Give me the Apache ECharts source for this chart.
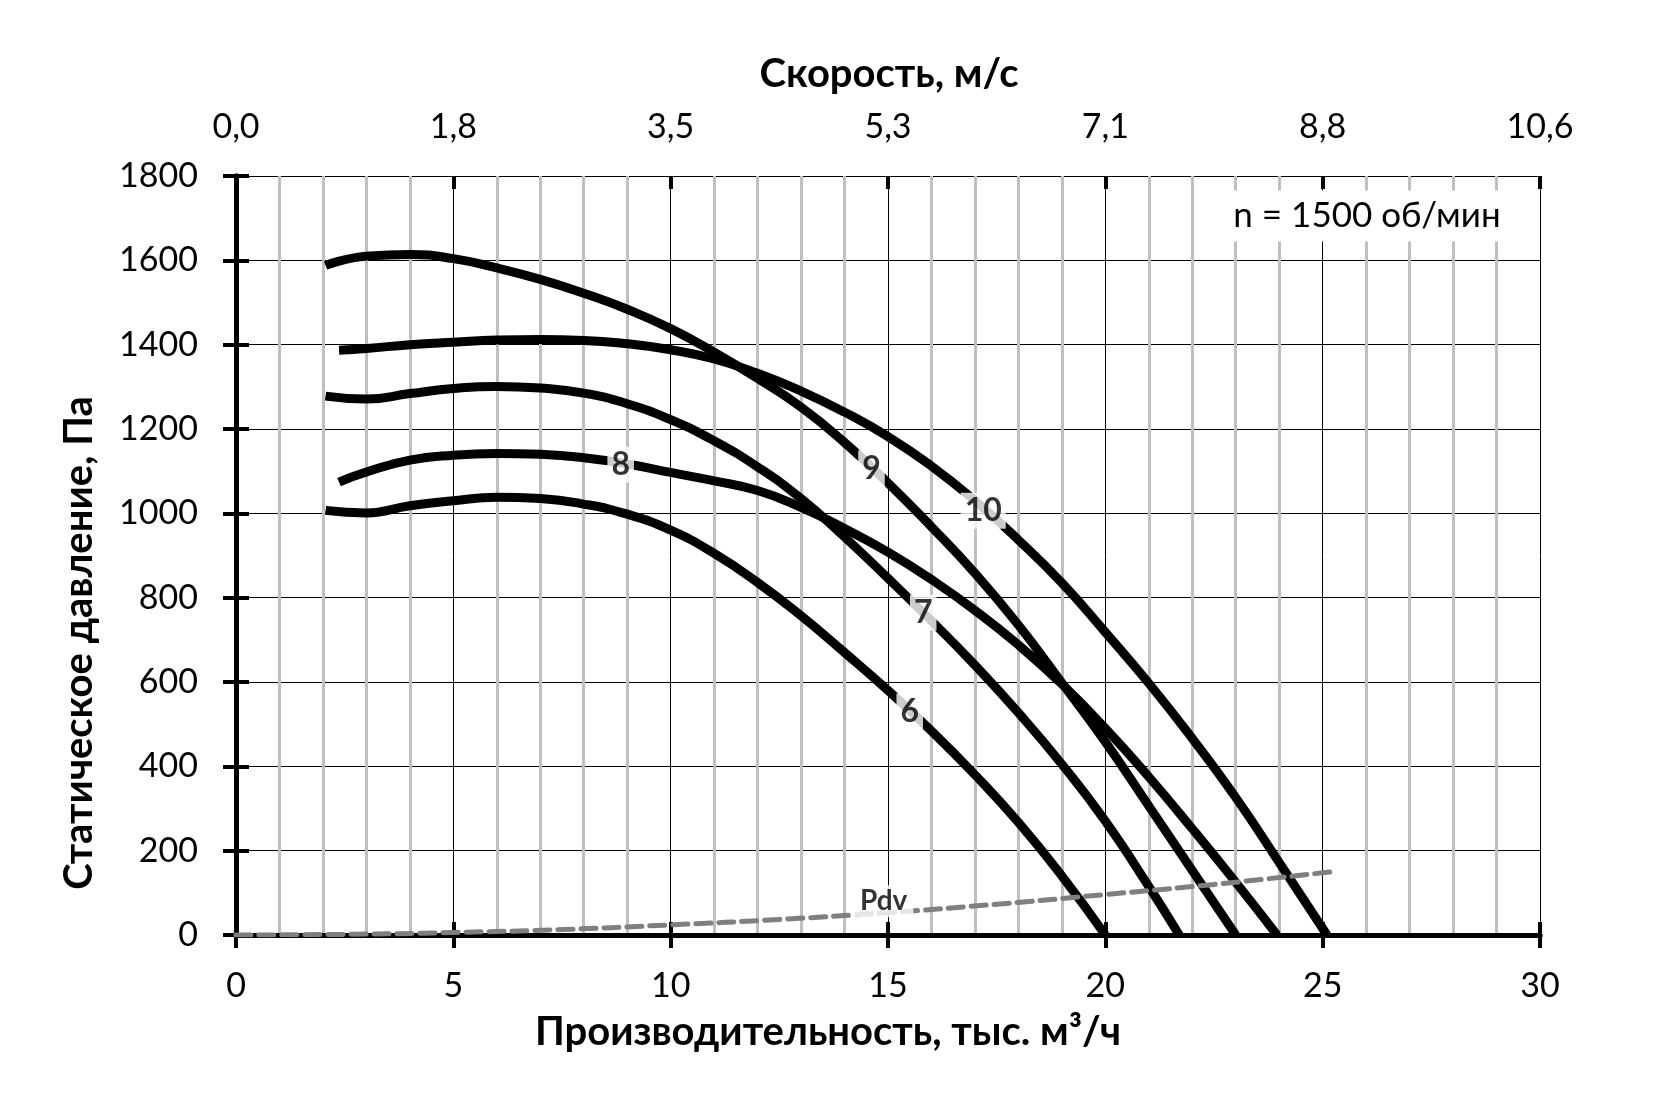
<!DOCTYPE html>
<html>
<head>
<meta charset="utf-8">
<script src="https://cdn.jsdelivr.net/npm/echarts@6/dist/echarts.min.js"></script>
<style>
  html, body { margin: 0; padding: 0; background: #fff; }
  #main { width: 1654px; height: 1103px; }
</style>
</head>
<body>
<div id="main"></div>
<script>
// производительность, тыс. м3/ч -> статическое давление, Па
var curve6 = [[2.06,1007],[3,1001],[4,1018],[5,1030],[6,1038],[7,1035],[8,1022],[9,998],[10,960],
  [11,905],[12,836],[13,757],[14,670],[15,580],[16,484],[17,380],[18,267],[19,140],[20,0]];
var curve7 = [[2.06,1278],[3,1271],[4,1284],[5,1296],[6,1301],[7,1297],[8,1285],[9,1260],[10,1222],
  [11,1172],[12,1110],[13,1035],[14,944],[15,846],[16,745],[17,640],[18,527],[19,405],[20,270],
  [21,115],[21.7,0]];
var curve8 = [[2.37,1074],[3,1098],[4,1126],[5,1138],[6,1142],[7,1140],[8,1132],[9,1117],[10,1097],
  [11,1077],[12,1054],[13,1014],[14,964],[15,908],[16,843],[17,770],[18,688],[19,595],[20,490],
  [21,375],[22,252],[23,125],[23.95,0]];
var curve9 = [[2.06,1588],[3,1610],[4,1614],[5,1604],[6,1582],[7,1555],[8,1522],[9,1484],[10,1438],
  [11,1382],[12,1320],[13,1252],[14,1168],[15,1072],[16,968],[17,858],[18,735],[19,598],[20,458],
  [21,306],[22,153],[23,0]];
var curve10 = [[2.37,1387],[3,1391],[4,1400],[5,1406],[6,1411],[7,1412],[8,1410],[9,1402],[10,1388],
  [11,1366],[12,1332],[13,1290],[14,1240],[15,1182],[16,1112],[17,1030],[18,937],[19,835],[20,718],
  [21,597],[22,466],[23,326],[24,172],[25.1,0]];
var pdv = [[0,0],[2.5,1.5],[5,6],[7.5,13],[10,24],[12.5,37],[15,53],[17.5,73],[20,96],[22.5,120],[25.2,150]];

var curveNames = ['6', '7', '8', '9', '10'];
var labelQ = [15.5, 15.81, 8.85, 14.62, 17.19];
var labelP = [530, 764, 1115, 1107, 1006];
var pdvLabel = [14.9, 80];

var topLabels = ['0,0', '1,8', '3,5', '5,3', '7,1', '8,8', '10,6'];

var FONT = "Lato, 'Open Sans', sans-serif";

var myChart = echarts.init(document.getElementById('main'));

// ось только с делениями; вторую копию кладём поверх, чтобы деления пересекали линию оси
function tickAxis(pos, inside, dim) {
    return {
        type: 'value',
        position: pos,
        min: 0,
        max: dim === 'x' ? 30 : 1800,
        interval: dim === 'x' ? 5 : 200,
        axisLine: { show: false, lineStyle: { color: '#000', width: 5 } },
        axisTick: { show: true, inside: inside, length: 13, lineStyle: { color: '#000', width: 4 } },
        axisLabel: { show: false },
        splitLine: { show: false }
    };
}

var bottomAxis = tickAxis('bottom', false, 'x');
bottomAxis.axisLine.show = true;
bottomAxis.axisLabel = { show: true, fontSize: 34, margin: 34, color: '#000', fontFamily: FONT };
bottomAxis.splitLine = { show: true, lineStyle: { color: '#000', width: 1 } };
bottomAxis.minorTick = { show: false, splitNumber: 5 };
bottomAxis.minorSplitLine = { show: true, lineStyle: { color: '#bfbfbf', width: 3 } };

var topAxis = tickAxis('top', false, 'x');
topAxis.axisLine.show = true;
topAxis.axisLabel = {
    show: true, fontSize: 34, margin: 32, color: '#000', fontFamily: FONT,
    formatter: function (v) { return topLabels[Math.round(v / 5)]; }
};

var leftAxis = tickAxis('left', false, 'y');
leftAxis.axisLine.show = true;
leftAxis.axisLabel = {
    show: true, fontSize: 34, margin: 38, color: '#000', fontFamily: FONT,
    formatter: function (v) { return String(v); }
};
leftAxis.splitLine = { show: true, lineStyle: { color: '#000', width: 1 } };

var rightAxis = tickAxis('right', false, 'y');
rightAxis.axisLine.show = true;
rightAxis.axisTick.show = false;

var series = [];
[curve6, curve7, curve8, curve9, curve10].forEach(function (c, i) {
    series.push({
        name: curveNames[i],
        type: 'line',
        data: c,
        smooth: 0.5,
        symbol: 'none',
        z: 3,
        lineStyle: { color: '#000', width: 9 }
    });
});
series.push({
    name: 'Pdv',
    type: 'line',
    data: pdv,
    smooth: 0.5,
    symbol: 'none',
    z: 3,
    lineStyle: { color: '#7f7f7f', width: 5, type: [15, 8], cap: 'round' }
});

var labelData = curveNames.map(function (n, i) { return [labelQ[i], labelP[i], n]; });
series.push({
    type: 'scatter',
    data: labelData,
    symbolSize: 1,
    itemStyle: { color: 'rgba(0,0,0,0)' },
    z: 10,
    silent: true,
    label: {
        show: true, position: 'inside',
        formatter: function (p) { return p.value[2]; },
        color: '#000', fontSize: 32, fontWeight: 'bold', fontFamily: FONT,
        backgroundColor: '#fff', padding: [2, 4]
    }
});
series.push({
    type: 'scatter',
    data: [[pdvLabel[0], pdvLabel[1], 'Pdv']],
    symbolSize: 1,
    itemStyle: { color: 'rgba(0,0,0,0)' },
    z: 10,
    silent: true,
    label: {
        show: true, position: 'inside',
        formatter: function (p) { return p.value[2]; },
        color: '#000', fontSize: 28, fontWeight: 'bold', fontFamily: FONT,
        backgroundColor: '#fff', padding: [2, 6]
    }
});

var option = {
    animation: false,
    backgroundColor: '#fff',
    grid: { left: 236, right: 114, top: 176, bottom: 168 },
    xAxis: [
        bottomAxis,
        topAxis,
        tickAxis('bottom', true, 'x'),
        tickAxis('top', true, 'x')
    ],
    yAxis: [
        leftAxis,
        tickAxis('left', true, 'y'),
        rightAxis
    ],
    graphic: [
        {
            type: 'text', x: 889, y: 74, z: 100,
            style: { text: 'Скорость, м/с', font: 'bold 40px ' + FONT, fill: '#000',
                     textAlign: 'center', textVerticalAlign: 'middle' }
        },
        {
            type: 'text', x: 828, y: 1032, z: 100,
            style: { text: 'Производительность, тыс. м³/ч', font: 'bold 40px ' + FONT, fill: '#000',
                     textAlign: 'center', textVerticalAlign: 'middle' }
        },
        {
            type: 'text', x: 79, y: 643, z: 100, rotation: Math.PI / 2,
            style: { text: 'Статическое давление, Па', font: 'bold 40px ' + FONT, fill: '#000',
                     textAlign: 'center', textVerticalAlign: 'middle' }
        },
        {
            type: 'text', x: 1367, y: 216, z: 100,
            style: { text: 'n = 1500 об/мин', font: '35px ' + FONT, fill: '#000',
                     textAlign: 'center', textVerticalAlign: 'middle',
                     backgroundColor: '#fff', padding: [8, 6] }
        }
    ],
    series: series
};

myChart.setOption(option);
</script>
</body>
</html>
